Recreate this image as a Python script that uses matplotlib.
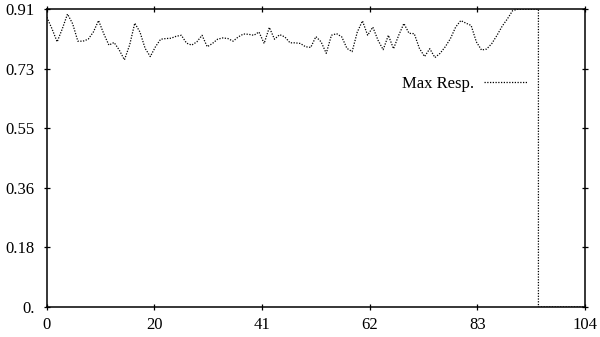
import numpy as np
import matplotlib
matplotlib.use("Agg")
from matplotlib import pyplot as plt

# values, one per x unit (0..95), then the drop to zero
resp = [0.885, 0.85, 0.81, 0.85, 0.895, 0.865, 0.812, 0.812, 0.818, 0.84,
        0.875, 0.835, 0.800, 0.808, 0.785, 0.755, 0.80, 0.867, 0.84, 0.79,
        0.765, 0.795, 0.818, 0.82, 0.821, 0.827, 0.83, 0.806, 0.800, 0.81,
        0.83, 0.795, 0.805, 0.818, 0.822, 0.82, 0.812, 0.825, 0.834, 0.833,
        0.83, 0.84, 0.805, 0.854, 0.818, 0.832, 0.825, 0.807, 0.807, 0.805,
        0.795, 0.793, 0.826, 0.81, 0.775, 0.83, 0.835, 0.825, 0.79, 0.78,
        0.84, 0.874, 0.83, 0.855, 0.815, 0.786, 0.83, 0.789, 0.83, 0.866,
        0.836, 0.835, 0.79, 0.765, 0.789, 0.762, 0.775, 0.795, 0.82, 0.855,
        0.875, 0.867, 0.86, 0.81, 0.785, 0.788, 0.805, 0.83, 0.858, 0.88,
        0.905, 0.91, 0.91, 0.91, 0.91, 0.91]
tail_x = [95, 96, 98, 100, 102, 104]
tail_y = [0.0, 0.0, 0.0, 0.0, 0.0, 0.0]

x = list(range(len(resp))) + tail_x
y = resp + tail_y

xticks = [0, 20.8, 41.6, 62.4, 83.2, 104]
xlabels = ["0", "20", "41", "62", "83", "104"]
yticks = [0, 0.182, 0.364, 0.546, 0.728, 0.91]
ylabels = ["0.", "0.18", "0.36", "0.55", "0.73", "0.91"]

plt.rcParams['font.family'] = ['Liberation Serif', 'DejaVu Serif']

fig = plt.figure(figsize=(6, 3.37), dpi=100)
ax = fig.add_axes([0.078, 0.089, 0.897, 0.884])

ax.plot(x, y, color='black', linestyle=(0, (1, 1.2)), linewidth=0.9,
        label='Max Resp.')

ax.set_xlim(0, 104)
ax.set_ylim(0, 0.91)
ax.set_xticks(xticks)
ax.set_xticklabels(xlabels)
ax.set_yticks(yticks)
ax.set_yticklabels(ylabels)
ax.tick_params(direction='inout', length=5, width=0.9, labelsize=12,
               top=True, right=True, pad=5)
ax.tick_params(axis='y', pad=6)
for s in ax.spines.values():
    s.set_linewidth(1.1)

leg = ax.legend(loc='center right', bbox_to_anchor=(0.8916, 0.748),
                frameon=False, markerfirst=False, fontsize=12,
                handlelength=2.56, handletextpad=0.6, borderpad=0,
                borderaxespad=0)

fig.savefig('out.png', dpi=100)
